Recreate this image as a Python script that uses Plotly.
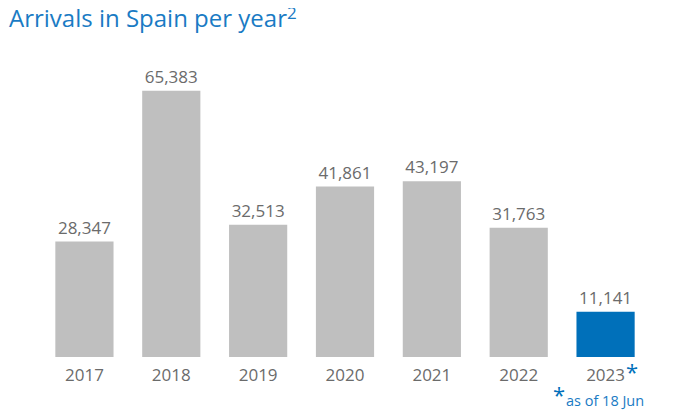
import plotly.graph_objects as go

years = ["2017", "2018", "2019", "2020", "2021", "2022", "2023"]
arrivals = [28347, 65383, 32513, 41861, 43197, 31763, 11141]
bar_colors = ["#bfbfbf"] * 6 + ["#0070ba"]
labels = [f"{v:,}" for v in arrivals]
last_idx = len(years) - 1

PW = 608.5  # plot width px
PH = 285    # plot height px

fig = go.Figure()
fig.add_trace(go.Bar(
    x=years, y=arrivals, marker=dict(color=bar_colors, line=dict(width=0)),
    text=labels, textposition="outside", cliponaxis=False,
    textfont=dict(size=17, color="#6b6b6b", family="Open Sans"),
))

fig.update_layout(
    width=669, height=408,
    margin=dict(l=32.5, r=28, t=64, b=59, autoexpand=False),
    paper_bgcolor="white", plot_bgcolor="white",
    bargap=0.33, showlegend=False,
    font=dict(family="Open Sans", color="#6b6b6b"),
    xaxis=dict(type="category", showgrid=False, showline=False, zeroline=False, ticks="",
               ticklabelstandoff=6,
               tickfont=dict(size=17, color="#6b6b6b")),
    yaxis=dict(range=[0, 70000], visible=False),
)

fig.add_annotation(text="Arrivals in Spain per year", xref="paper", yref="paper",
                   x=-34.5 / PW, y=1 + 73 / PH, xanchor="left", yanchor="top", showarrow=False,
                   font=dict(size=24, color="#1a7bc4"))
fig.add_annotation(text="2", xref="paper", yref="paper",
                   x=(277 - 32.5) / PW, y=1 + 73 / PH, xanchor="left", yanchor="top", showarrow=False,
                   font=dict(size=17, color="#1a7bc4"))

fig.add_annotation(text="*", xref="x", yref="paper", x=last_idx, xshift=18, y=0.0105,
                   xanchor="left", yanchor="top", showarrow=False,
                   font=dict(size=22, color="#0070ba"))
fig.add_annotation(text="*", xref="x", yref="paper", x=last_idx, xshift=-55, y=-0.070,
                   xanchor="left", yanchor="top", showarrow=False,
                   font=dict(size=22, color="#0070ba"))
fig.add_annotation(text="as of 18 Jun", xref="x", yref="paper", x=last_idx, xshift=-41.5, y=-0.114,
                   xanchor="left", yanchor="top", showarrow=False,
                   font=dict(size=14.5, color="#1a7bc4"))

fig.write_html("out.html")
